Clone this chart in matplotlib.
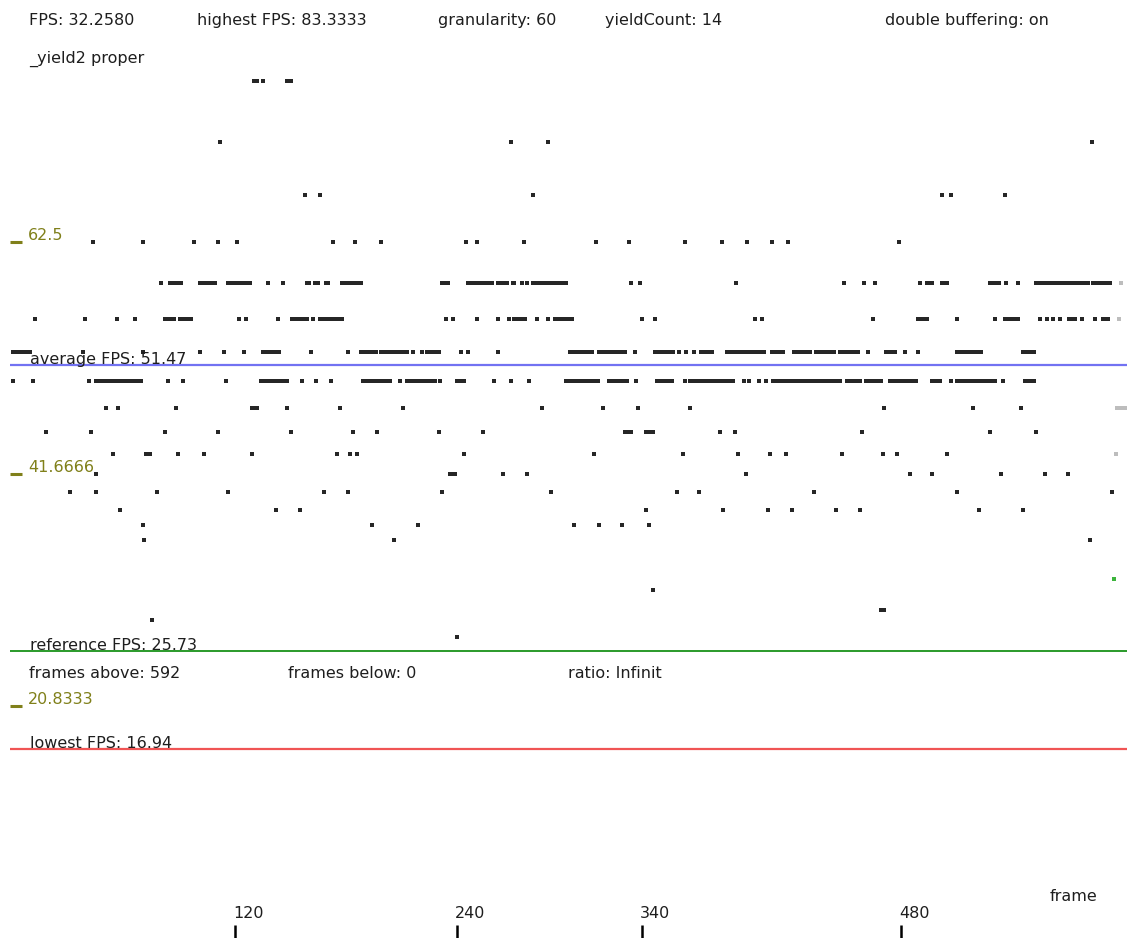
import numpy as np
import matplotlib.pyplot as plt
from matplotlib.transforms import blended_transform_factory

##########################
# Frame log (frame-time in ms -> runs of frame numbers)
##########################

ms13 = [(130, 132), (135, 135), (148, 150)]
ms14 = [(112, 112), (269, 269), (289, 289), (583, 583)]
ms15 = [(158, 158), (166, 166), (281, 281), (502, 502), (507, 507), (536, 536)]
ms16 = [(43, 43), (70, 70), (98, 98), (111, 111), (121, 121), (173, 173),
        (185, 185), (199, 199), (245, 245), (251, 251), (276, 276), (315, 315),
        (333, 333), (363, 363), (383, 383), (397, 397), (410, 410), (419, 419),
        (479, 479)]
ms17 = [(80, 80), (85, 86), (88, 91), (101, 103), (105, 109), (116, 128),
        (138, 138), (146, 146), (159, 160), (163, 165), (169, 170), (178, 180),
        (182, 184), (186, 188), (232, 235), (246, 259), (262, 267), (270, 271),
        (275, 275), (278, 278), (281, 286), (288, 299), (334, 334), (339, 339),
        (391, 391), (449, 449), (460, 460), (466, 466), (490, 490), (494, 497),
        (502, 505), (528, 533), (537, 537), (543, 543), (553, 557), (559, 581),
        (584, 593)]
ms18 = [(12, 12), (39, 39), (56, 56), (66, 66), (82, 87), (90, 90), (92, 96),
        (122, 122), (126, 126), (143, 143), (151, 159), (162, 162), (166, 178),
        (234, 234), (238, 238), (251, 251), (262, 262), (268, 268), (271, 277),
        (283, 283), (289, 289), (293, 302), (340, 340), (347, 347), (401, 401),
        (405, 405), (465, 465), (489, 494), (510, 510), (531, 531), (536, 543),
        (555, 555), (559, 559), (562, 562), (566, 566), (571, 574), (578, 578),
        (585, 585), (589, 592)]
ms19 = [(0, 9), (38, 38), (70, 70), (101, 101), (114, 114), (125, 125),
        (135, 144), (161, 161), (181, 181), (188, 196), (199, 213), (216, 216),
        (221, 221), (224, 230), (242, 242), (246, 246), (262, 262), (301, 313),
        (317, 331), (336, 336), (347, 357), (360, 360), (364, 364), (368, 368),
        (372, 378), (386, 391), (393, 406), (410, 416), (422, 431), (434, 434),
        (436, 444), (447, 457), (462, 462), (472, 477), (482, 482), (489, 489),
        (510, 523), (546, 552)]
ms20 = [(0, 0), (11, 11), (41, 41), (45, 50), (52, 57), (59, 63), (65, 69),
        (84, 84), (92, 92), (115, 115), (134, 148), (156, 156), (164, 164),
        (172, 172), (189, 204), (209, 209), (213, 228), (231, 231), (240, 244),
        (260, 260), (269, 269), (279, 279), (299, 316), (322, 332), (337, 337),
        (348, 356), (363, 363), (366, 389), (395, 395), (398, 398), (403, 403),
        (407, 407), (411, 447), (451, 458), (461, 469), (474, 488), (497, 501),
        (507, 507), (510, 531), (535, 535), (547, 552)]
ms21 = [(50, 50), (57, 57), (88, 88), (129, 132), (148, 148), (177, 177),
        (211, 211), (286, 286), (319, 319), (338, 338), (366, 366), (471, 471),
        (519, 519), (545, 545)]
ms22 = [(18, 18), (42, 42), (82, 82), (111, 111), (150, 150), (184, 184),
        (197, 197), (230, 230), (254, 254), (331, 334), (342, 346), (382, 382),
        (390, 390), (459, 459), (528, 528), (553, 553)]
ms23 = [(54, 54), (72, 74), (89, 89), (103, 103), (129, 129), (175, 175),
        (182, 182), (186, 186), (244, 244), (314, 314), (362, 362), (392, 392),
        (409, 409), (418, 418), (448, 448), (470, 470), (478, 478), (505, 505)]
ms24 = [(45, 45), (236, 239), (265, 265), (278, 278), (396, 396), (485, 485),
        (497, 497), (534, 534), (558, 558), (570, 570)]
ms25 = [(31, 31), (45, 45), (78, 78), (116, 116), (168, 168), (181, 181),
        (232, 232), (291, 291), (359, 359), (371, 371), (433, 433), (510, 510),
        (594, 594)]
ms26 = [(58, 58), (142, 142), (155, 155), (342, 342), (384, 384), (408, 408),
        (421, 421), (445, 445), (458, 458), (522, 522), (546, 546)]
ms27 = [(70, 70), (194, 194), (219, 219), (303, 303), (317, 317), (329, 329),
        (344, 344)]
ms28 = [(71, 71), (206, 206), (582, 582)]
ms32 = [(346, 346)]
ms34 = [(469, 471)]
ms35 = [(75, 75)]
ms37 = [(240, 240)]

frame_ms = [13, 14, 15, 16, 17, 18, 19, 20, 21, 22, 23, 24, 25, 26, 27, 28,
            32, 34, 35, 37]
frame_runs = [ms13, ms14, ms15, ms16, ms17, ms18, ms19, ms20, ms21, ms22,
              ms23, ms24, ms25, ms26, ms27, ms28, ms32, ms34, ms35, ms37]

# current frame and the old entries from the previous pass
current_frame = 595
current_fps = '32.2580'
old_frames = [596, 597, 598, 599, 599, 601]
old_ms = [23, 21, 18, 17, 21, 21]

levels = [62.5, 41.6666, 20.8333]
tick_frames = [120, 240, 340, 480]

average_fps = 51.47
reference_fps = 25.73
lowest_fps = 16.94
highest_fps = 83.3333
frames_above = 592
frames_below = 0

##########################
# Figure
##########################

W, H = 1127, 938
PX_FRAME = 1.85    # pixels per frame
PX_FPS = 11.14     # pixels per fps

fig = plt.figure(figsize=(W / 100, H / 100), dpi=100)
ax = fig.add_axes([0, 0, 1, 1])
ax.set_xlim(-13 / PX_FRAME, (W - 13) / PX_FRAME)
ax.set_ylim(0, H / PX_FPS)
ax.axis('off')

fs = 11.5
txt = '#1e1e1e'
olive = '#80801a'
dot = 2.25
# x in pixels, y in data
bt = blended_transform_factory(ax.transAxes, ax.transData)


def put(x, y, s, **kw):
    fig.text(x / W, 1 - y / H, s, va='baseline', fontsize=fs, color=txt, **kw)


def expand(runs):
    return np.concatenate([np.arange(a, b + 1) for a, b in runs])


# reference lines
x0 = -3 / PX_FRAME
x1 = W / PX_FRAME
ax.hlines(average_fps, x0, x1, color='#7272f2', lw=1.6, zorder=1)
ax.hlines(reference_fps, x0, x1, color='#2a9a2a', lw=1.4, zorder=1)
ax.hlines(lowest_fps, x0, x1, color='#f05454', lw=1.6, zorder=1)

# frames
for ms, runs in zip(frame_ms, frame_runs):
    f = expand(runs)
    ax.plot(f, np.full(len(f), 1000 / ms), 's', color='#262626', ms=dot,
            mew=0, zorder=3)
ax.plot(old_frames, [1000 / m for m in old_ms], 's', color='#bdbdbd',
        ms=dot, mew=0, zorder=2)
ax.plot([current_frame], [float(current_fps)], 's', color='#3cb43c', ms=dot,
        mew=0, zorder=3)

# level marks
ax.hlines(levels, -3 / PX_FRAME, 9 / PX_FRAME, color=olive, lw=2.2, zorder=2)
for lv in levels:
    ax.text(28 / W, lv + 0.15, f'{lv:g}', transform=bt, fontsize=fs,
            color=olive, va='baseline')

# line labels
ax.text(30 / W, average_fps + 0.1, f'average FPS: {average_fps}', transform=bt,
        fontsize=fs, color=txt, va='baseline', zorder=4)
ax.text(30 / W, reference_fps + 0.15, f'reference FPS: {reference_fps}',
        transform=bt, fontsize=fs, color=txt, va='baseline', zorder=4)
ax.text(30 / W, lowest_fps + 0.15, f'lowest FPS: {lowest_fps}', transform=bt,
        fontsize=fs, color=txt, va='baseline', zorder=4)

# header
put(29, 25, f'FPS: {current_fps}')
put(197, 25, f'highest FPS: {highest_fps}')
put(438, 25, 'granularity: 60')
put(605, 25, 'yieldCount: 14')
put(885, 25, 'double buffering: on')
put(29, 63, '_yield2 proper')

put(29, 678, f'frames above: {frames_above}')
put(288, 678, f'frames below: {frames_below}')
put(568, 678, 'ratio: Infinit')

# frame axis
ax.vlines(tick_frames, 0, 13 / PX_FPS, color='black', lw=1.8)
for t in tick_frames:
    ax.text(t - 2 / PX_FRAME, 20 / PX_FPS, str(t), fontsize=fs, color=txt,
            va='baseline')
put(1050, 901, 'frame')

plt.savefig('out.png', dpi=100)
plt.close()
